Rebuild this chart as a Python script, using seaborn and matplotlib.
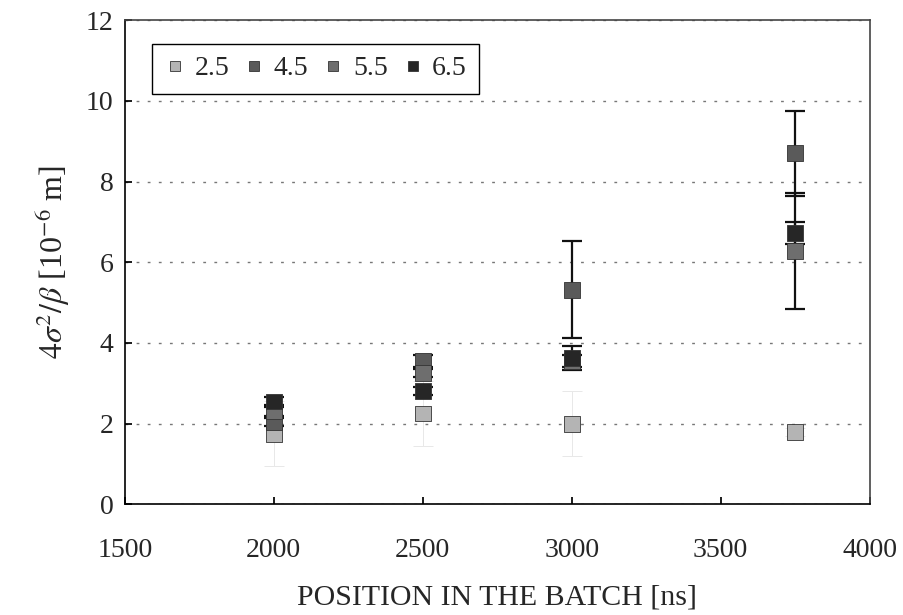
import numpy as np
import pandas as pd
import matplotlib
matplotlib.use("Agg")
import matplotlib.pyplot as plt
import seaborn as sns

# ---- data ----
positions = [2000, 2500, 3000, 3750]
series_names = ["2.5", "4.5", "5.5", "6.5"]
vals_25 = [1.75, 2.25, 2.00, 1.80]
vals_45 = [2.05, 3.55, 5.32, 8.70]
vals_55 = [2.30, 3.25, 3.55, 6.28]
vals_65 = [2.55, 2.80, 3.62, 6.72]
err_25 = [0.80, 0.80, 0.80, 0.10]
err_45 = [0.10, 0.15, 1.20, 1.05]
err_55 = [0.10, 0.10, 0.15, 1.45]
err_65 = [0.10, 0.10, 0.30, 0.27]
x_ticks = [1500, 2000, 2500, 3000, 3500, 4000]
y_ticks = [0, 2, 4, 6, 8, 10, 12]

values = {"2.5": vals_25, "4.5": vals_45, "5.5": vals_55, "6.5": vals_65}
errors = {"2.5": err_25, "4.5": err_45, "5.5": err_55, "6.5": err_65}
colors = {"2.5": "#b4b4b4", "4.5": "#5a5a5a", "5.5": "#6e6e6e", "6.5": "#262626"}
ecolors = {"2.5": "#e8e8e8", "4.5": "#111111", "5.5": "#111111", "6.5": "#111111"}

rows = []
for s in series_names:
    for p, v, e in zip(positions, values[s], errors[s]):
        rows.append({"position": p, "value": v, "err": e, "series": s})
df = pd.DataFrame(rows)

sns.set_theme(style="white")
plt.rcParams["font.family"] = ["Liberation Serif", "DejaVu Serif"]
plt.rcParams["mathtext.fontset"] = "stix"

fig = plt.figure(figsize=(9.04, 6.15), dpi=100)
ax = fig.add_axes([0.138, 0.180, 0.824, 0.787])

# error bars
for s in series_names:
    sub = df[df.series == s]
    ax.errorbar(sub["position"], sub["value"], yerr=sub["err"], fmt="none",
                ecolor=ecolors[s], elinewidth=1.6 if s != "2.5" else 0.7,
                capsize=7, capthick=1.6 if s != "2.5" else 0.7, zorder=2)

sns.scatterplot(data=df, x="position", y="value", hue="series",
                hue_order=series_names, palette=colors, marker="s", s=130,
                edgecolor="#333333", linewidth=0.6, ax=ax, zorder=3)

ax.set_xlim(1500, 4000)
ax.set_ylim(0, 12)
ax.set_xticks(x_ticks)
ax.set_yticks(y_ticks)
ax.tick_params(axis="both", labelsize=20, direction="in", length=5,
               color="black", left=True, bottom=True, pad=8)
ax.tick_params(axis="x", pad=24)

ax.yaxis.grid(True, linestyle=(0, (2, 6)), color="#777777", linewidth=1.0)
ax.xaxis.grid(False)
for sp in ax.spines.values():
    sp.set_visible(True)
    sp.set_color("#444444")
    sp.set_linewidth(1.2)
    sp.set_linestyle((0, (1, 1)))
ax.spines["left"].set_linestyle("-")
ax.spines["left"].set_color("black")
ax.spines["bottom"].set_linestyle("-")
ax.spines["bottom"].set_color("black")

ax.set_xlabel("POSITION IN THE BATCH [ns]", fontsize=21.5, labelpad=16)
ax.set_ylabel(r"$4\sigma^2/\beta$ [10$^{-6}$ m]", fontsize=23, labelpad=10)

sns.move_legend(ax, loc="upper left", bbox_to_anchor=(0.036, 0.952), ncol=4,
                title=None, frameon=True, fontsize=20, handletextpad=0.3,
                columnspacing=0.5, borderpad=0.45, markerscale=0.65,
                handlelength=0.8, borderaxespad=0)
leg = ax.get_legend()
leg.get_frame().set_edgecolor("black")
leg.get_frame().set_linewidth(1.0)
leg.get_frame().set_boxstyle("square", pad=0)
leg.get_frame().set_alpha(1.0)

fig.savefig("out.png", dpi=100)
